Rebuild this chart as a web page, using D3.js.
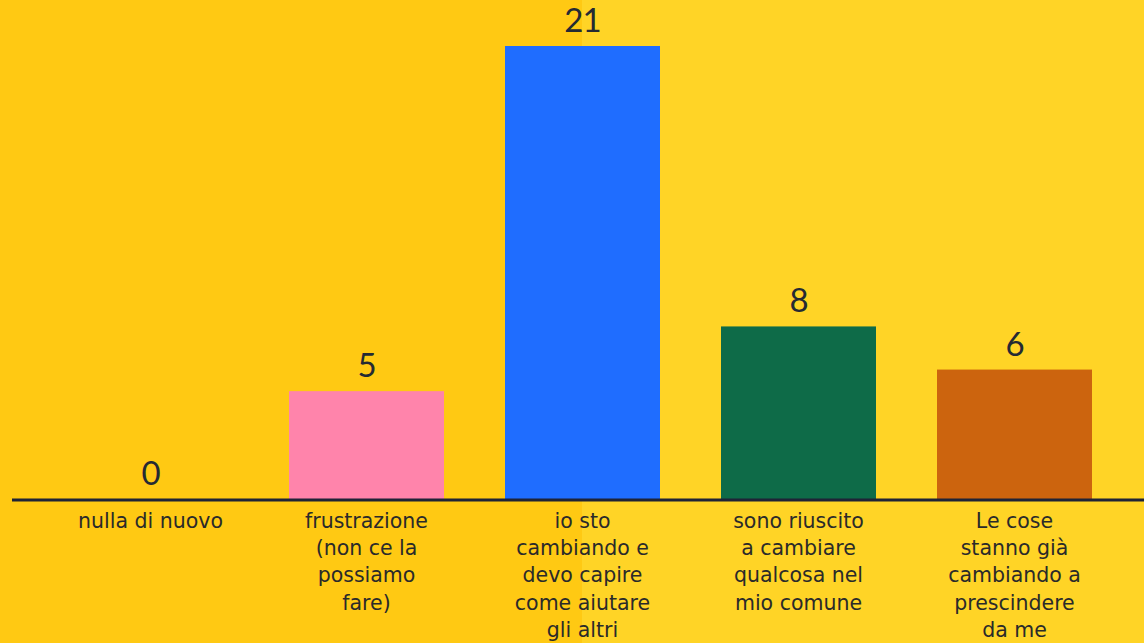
<!DOCTYPE html>
<html>
<head>
<meta charset="utf-8">
<script src="https://cdn.jsdelivr.net/npm/d3@7"></script>
<style>
  html, body { margin: 0; padding: 0; overflow: hidden; }
  svg { display: block; }
</style>
</head>
<body>
<svg id="chart"></svg>
<script>
// answers (line breaks as in the picture)
const categories = [
  "nulla di nuovo",
  "frustrazione\n(non ce la\npossiamo\nfare)",
  "io sto\ncambiando e\ndevo capire\ncome aiutare\ngli altri",
  "sono riuscito\na cambiare\nqualcosa nel\nmio comune",
  "Le cose\nstanno già\ncambiando a\nprescindere\nda me"
];
const values = [0, 5, 21, 8, 6];
const barColors = ["#ff84ab", "#ff84ab", "#1f6dff", "#0e6b48", "#cc640e"];

const W = 1144, H = 643;
const baseY = 499;

const svg = d3.select('#chart')
  .attr('width', W)
  .attr('height', H);

// two-tone background
svg.append('rect').attr('x', 0).attr('y', 0).attr('width', 582).attr('height', H).attr('fill', '#ffc913');
svg.append('rect').attr('x', 582).attr('y', 0).attr('width', W - 582).attr('height', H).attr('fill', '#ffd426');

const x = d3.scaleBand()
  .domain(categories)
  .range([42.5, 1122.5])
  .paddingInner(0.2824)
  .paddingOuter(0.1412);

const y = d3.scaleLinear()
  .domain([0, 21])
  .range([baseY, 46]);

svg.selectAll('rect.bar')
  .data(values)
  .enter()
  .append('rect')
  .attr('class', 'bar')
  .attr('x', (d, i) => x(categories[i]))
  .attr('y', d => y(d))
  .attr('width', x.bandwidth())
  .attr('height', d => baseY - y(d))
  .attr('fill', (d, i) => barColors[i]);

svg.selectAll('text.val')
  .data(values)
  .enter()
  .append('text')
  .attr('class', 'val')
  .attr('x', (d, i) => x(categories[i]) + x.bandwidth() / 2)
  .attr('y', d => y(d) - 14)
  .attr('text-anchor', 'middle')
  .style('font-family', 'Lato, sans-serif')
  .style('font-size', '33px')
  .style('letter-spacing', '-1px')
  .style('fill', '#252a33')
  .text(d => d);

// baseline
svg.append('line')
  .attr('x1', 12).attr('x2', W)
  .attr('y1', baseY + 1).attr('y2', baseY + 1)
  .style('stroke', '#1e2336')
  .style('stroke-width', 3);

const labels = svg.selectAll('text.cat')
  .data(categories)
  .enter()
  .append('text')
  .attr('class', 'cat')
  .attr('text-anchor', 'middle')
  .style('font-family', '"DejaVu Sans", sans-serif')
  .style('font-size', '20.5px')
  .style('fill', '#2a2a2a');

labels.each(function (d) {
  const t = d3.select(this);
  d.split('\n').forEach((line, k) => {
    t.append('tspan')
      .attr('x', x(d) + x.bandwidth() / 2)
      .attr('y', 528 + k * 27.2)
      .text(line);
  });
});
</script>
</body>
</html>
